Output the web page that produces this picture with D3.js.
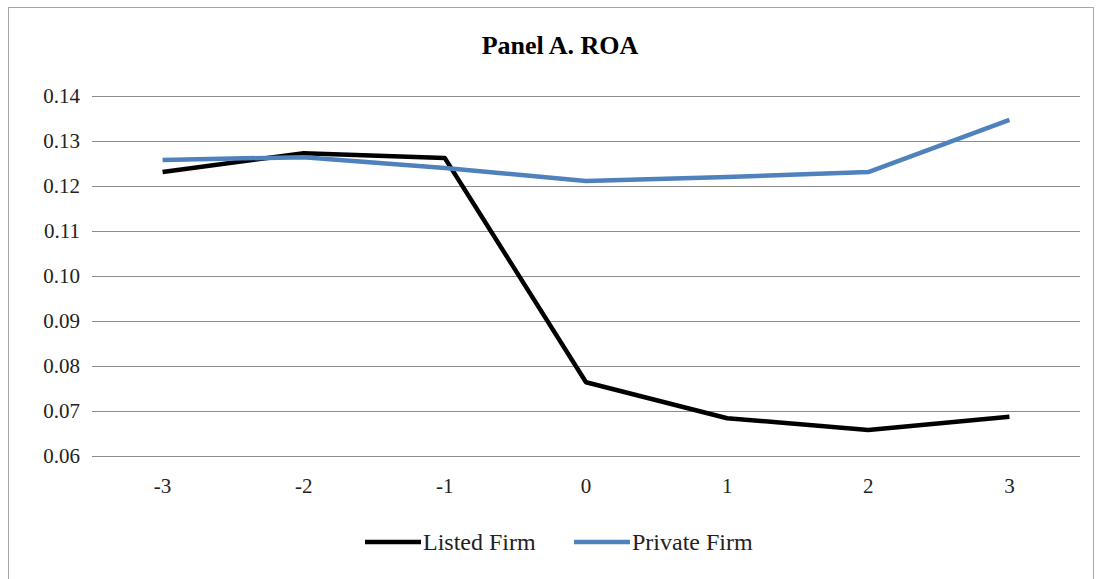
<!DOCTYPE html>
<html><head><meta charset="utf-8">
<script src="https://cdn.jsdelivr.net/npm/d3@7"></script>
<style>body{margin:0;background:#fff;} svg text{font-family:"Liberation Serif","DejaVu Serif",serif;}</style>
</head><body><svg id="chart" width="1102" height="579"></svg>
<script>
const years = ["-3", "-2", "-1", "0", "1", "2", "3"];
const listed = [0.1231, 0.1273, 0.1262, 0.0764, 0.0684, 0.0658, 0.0687];
const privateFirm = [0.1258, 0.1264, 0.1240, 0.1211, 0.1220, 0.1231, 0.1347];
const yTicks = [0.06, 0.07, 0.08, 0.09, 0.10, 0.11, 0.12, 0.13, 0.14];

const svg = d3.select("#chart");
svg.append("rect").attr("x", 8.5).attr("y", 7.5).attr("width", 1085).attr("height", 580)
    .attr("fill", "#fff").attr("stroke", "#a6a6a6");

const x = d3.scaleBand().domain(years).range([92, 1080]);
const y = d3.scaleLinear().domain([0.06, 0.14]).range([456, 96]);

svg.selectAll(".grid").data(yTicks).enter().append("line")
    .attr("x1", 92).attr("x2", 1080)
    .attr("y1", d => Math.round(y(d)) + 0.5).attr("y2", d => Math.round(y(d)) + 0.5)
    .attr("stroke", "#8c8c8c").attr("stroke-width", 1);

svg.selectAll(".ytl").data(yTicks).enter().append("text")
    .attr("x", 80).attr("y", d => y(d) + 7)
    .attr("text-anchor", "end").attr("font-size", 21).attr("fill", "#222")
    .text(d => d3.format(".2f")(d));

svg.selectAll(".xtl").data(years).enter().append("text")
    .attr("x", d => x(d) + x.bandwidth() / 2).attr("y", 493)
    .attr("text-anchor", "middle").attr("font-size", 21).attr("fill", "#222")
    .text(d => d);

const line = d3.line().x((d, i) => x(years[i]) + x.bandwidth() / 2).y(d => y(d));
svg.append("path").datum(listed).attr("d", line).attr("fill", "none")
    .attr("stroke", "#000").attr("stroke-width", 4.5).attr("stroke-linejoin", "round");
svg.append("path").datum(privateFirm).attr("d", line).attr("fill", "none")
    .attr("stroke", "#4f81bd").attr("stroke-width", 4.5).attr("stroke-linejoin", "round");

svg.append("text").attr("x", 560).attr("y", 54).attr("text-anchor", "middle")
    .attr("font-size", 26).attr("font-weight", "bold").text("Panel A. ROA");

const legend = [["Listed Firm", "#000", 365], ["Private Firm", "#4f81bd", 574]];
legend.forEach(([name, c, lx]) => {
    svg.append("line").attr("x1", lx).attr("x2", lx + 56).attr("y1", 542).attr("y2", 542)
        .attr("stroke", c).attr("stroke-width", 4.5);
    svg.append("text").attr("x", lx + 58).attr("y", 550).attr("font-size", 24)
        .attr("fill", "#222").text(name);
});
</script></body></html>
